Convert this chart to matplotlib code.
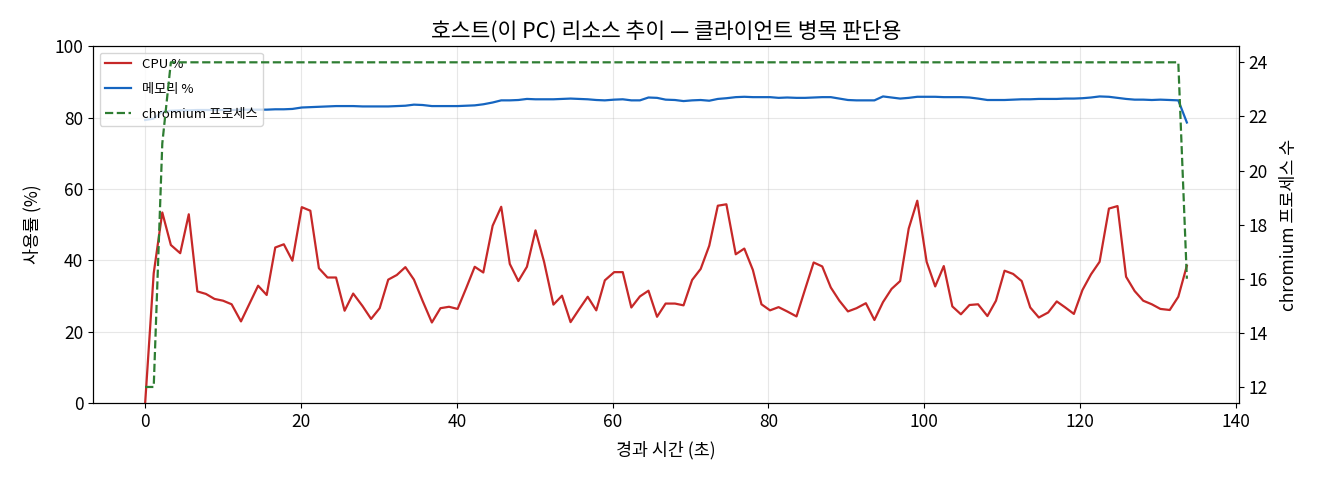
import matplotlib
matplotlib.use('Agg')
import matplotlib.pyplot as plt

plt.rcParams['font.family'] = ['Noto Sans CJK KR', 'DejaVu Sans']
plt.rcParams['axes.unicode_minus'] = False

# 경과 시간 (초)
elapsed = [
    0.0, 1.1, 2.2, 3.3, 4.5, 5.6, 6.7, 7.8, 8.9, 10.0,
    11.1, 12.3, 13.4, 14.5, 15.6, 16.7, 17.8, 18.9, 20.1, 21.2,
    22.3, 23.4, 24.5, 25.6, 26.7, 27.9, 29.0, 30.1, 31.2, 32.3,
    33.4, 34.5, 35.6, 36.8, 37.9, 39.0, 40.1, 41.2, 42.3, 43.4,
    44.6, 45.7, 46.8, 47.9, 49.0, 50.1, 51.2, 52.4, 53.5, 54.6,
    55.7, 56.8, 57.9, 59.0, 60.2, 61.3, 62.4, 63.5, 64.6, 65.7,
    66.8, 68.0, 69.1, 70.2, 71.3, 72.4, 73.5, 74.6, 75.8, 76.9,
    78.0, 79.1, 80.2, 81.3, 82.4, 83.6, 84.7, 85.8, 86.9, 88.0,
    89.1, 90.2, 91.3, 92.5, 93.6, 94.7, 95.8, 96.9, 98.0, 99.1,
    100.3, 101.4, 102.5, 103.6, 104.7, 105.8, 106.9, 108.1, 109.2, 110.3,
    111.4, 112.5, 113.6, 114.7, 115.9, 117.0, 118.1, 119.2, 120.3, 121.4,
    122.5, 123.7, 124.8, 125.9, 127.0, 128.1, 129.2, 130.3, 131.5, 132.6,
    133.7,
]

cpu = [
    0.0, 36.4, 53.4, 44.3, 42.0, 52.9, 31.3, 30.6, 29.2, 28.7,
    27.7, 22.9, 27.9, 32.9, 30.3, 43.6, 44.5, 39.9, 54.9, 53.9,
    37.8, 35.2, 35.2, 25.9, 30.7, 27.2, 23.6, 26.6, 34.6, 35.9,
    38.1, 34.6, 28.7, 22.6, 26.6, 27.0, 26.4, 32.2, 38.2, 36.6,
    49.7, 55.0, 39.0, 34.2, 38.2, 48.4, 39.6, 27.6, 30.1, 22.7,
    26.3, 29.8, 26.0, 34.4, 36.7, 36.7, 26.8, 29.9, 31.5, 24.2,
    27.9, 27.9, 27.4, 34.5, 37.6, 44.1, 55.3, 55.7, 41.7, 43.3,
    37.3, 27.7, 26.0, 26.9, 25.7, 24.3, 31.9, 39.4, 38.3, 32.4,
    28.7, 25.7, 26.6, 28.0, 23.3, 28.3, 32.0, 34.2, 48.9, 56.7,
    39.6, 32.7, 38.4, 27.1, 24.9, 27.5, 27.7, 24.4, 28.7, 37.1,
    36.2, 34.2, 26.8, 24.0, 25.4, 28.5, 26.8, 25.0, 31.7, 36.1,
    39.6, 54.5, 55.2, 35.4, 31.4, 28.7, 27.7, 26.4, 26.1, 29.8,
    38.5,
]

memory = [
    79.3, 79.7, 81.6, 81.9, 82.0, 82.0, 82.1, 82.1, 82.1, 82.1,
    82.1, 82.2, 82.2, 82.2, 82.2, 82.3, 82.3, 82.4, 82.8, 82.9,
    83.0, 83.1, 83.2, 83.2, 83.2, 83.1, 83.1, 83.1, 83.1, 83.2,
    83.3, 83.6, 83.5, 83.2, 83.2, 83.2, 83.2, 83.3, 83.4, 83.7,
    84.2, 84.8, 84.8, 84.9, 85.2, 85.1, 85.1, 85.1, 85.2, 85.3,
    85.2, 85.1, 84.9, 84.8, 85.0, 85.1, 84.8, 84.8, 85.6, 85.5,
    85.0, 84.9, 84.6, 84.8, 84.9, 84.7, 85.2, 85.4, 85.7, 85.8,
    85.7, 85.7, 85.7, 85.5, 85.6, 85.5, 85.5, 85.6, 85.7, 85.7,
    85.3, 84.9, 84.8, 84.8, 84.8, 85.9, 85.6, 85.3, 85.5, 85.8,
    85.8, 85.8, 85.7, 85.7, 85.7, 85.6, 85.3, 84.9, 84.9, 84.9,
    85.0, 85.1, 85.1, 85.2, 85.2, 85.2, 85.3, 85.3, 85.4, 85.6,
    85.9, 85.8, 85.5, 85.2, 85.0, 85.0, 84.9, 85.0, 84.9, 84.8,
    78.6,
]

chromium = [12, 12, 21] + [24] * 117 + [16]

fig, ax1 = plt.subplots(figsize=(13.2, 4.8), dpi=100)
fig.subplots_adjust(left=0.0705, right=0.9386, top=0.904, bottom=0.16)

l1, = ax1.plot(elapsed, cpu, color='#c62828', lw=1.6, label='CPU %')
l2, = ax1.plot(elapsed, memory, color='#1565c0', lw=1.6, label='메모리 %')
ax1.set_ylim(0, 100)
ax1.set_ylabel('사용률 (%)', fontsize=12.5, labelpad=9)
ax1.set_xlabel('경과 시간 (초)', fontsize=12.5, labelpad=7)
ax1.grid(True, alpha=0.3)
ax1.tick_params(labelsize=12.5)

ax2 = ax1.twinx()
l3, = ax2.plot(elapsed, chromium, color='#2e7d32', lw=1.6, ls='--', label='chromium 프로세스')
ax2.set_ylabel('chromium 프로세스 수', fontsize=12.5, labelpad=9)
ax2.tick_params(labelsize=12.5)

ax1.legend(handles=[l1, l2, l3], loc='upper left', fontsize=9.5, labelspacing=0.9)
ax1.set_title('호스트(이 PC) 리소스 추이 — 클라이언트 병목 판단용', fontsize=15.5)

plt.savefig('out.png')
